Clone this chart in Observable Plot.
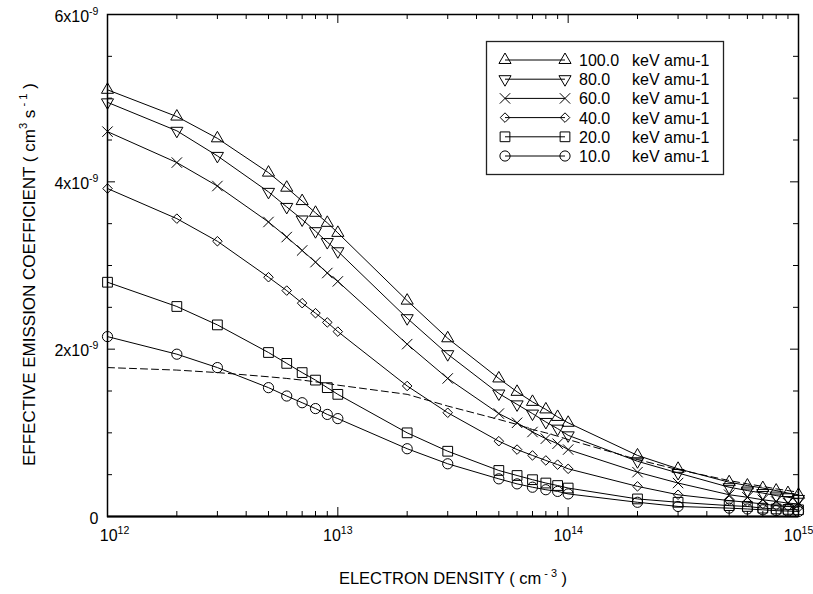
<!DOCTYPE html>
<html><head><meta charset="utf-8">
<script src="https://cdn.jsdelivr.net/npm/d3@7"></script>
<script src="https://cdn.jsdelivr.net/npm/@observablehq/plot@0.6"></script>
<style>
body{margin:0;background:#fff}
#chart{width:813px;height:594px}
</style>
</head><body><div id="chart"></div>
<script>
// Electron density (cm^-3)
const density = [1e12,2e12,3e12,5e12,6e12,7e12,8e12,9e12,1e13,2e13,3e13,5e13,6e13,7e13,8e13,9e13,1e14,2e14,3e14,5e14,6e14,7e14,8e14,9e14,1e15];
// Effective emission coefficient, in units of 1e-9 cm^3 s^-1
const coef100 = [5.10,4.78,4.52,4.11,3.93,3.77,3.63,3.51,3.39,2.58,2.13,1.65,1.49,1.37,1.28,1.19,1.12,0.73,0.57,0.41,0.37,0.34,0.31,0.28,0.26];
const coef80  = [4.95,4.61,4.31,3.88,3.70,3.55,3.41,3.28,3.17,2.37,1.94,1.47,1.34,1.23,1.13,1.05,0.97,0.66,0.52,0.35,0.31,0.28,0.25,0.23,0.21];
const coef60  = [4.60,4.23,3.95,3.52,3.34,3.18,3.04,2.91,2.81,2.06,1.65,1.23,1.12,1.01,0.93,0.87,0.80,0.53,0.40,0.26,0.23,0.20,0.18,0.16,0.15];
const coef40  = [3.92,3.56,3.29,2.86,2.70,2.55,2.43,2.32,2.21,1.56,1.24,0.90,0.80,0.73,0.67,0.62,0.57,0.36,0.26,0.19,0.17,0.15,0.13,0.12,0.11];
const coef20  = [2.80,2.51,2.29,1.96,1.83,1.72,1.63,1.54,1.46,1.00,0.78,0.55,0.49,0.44,0.40,0.37,0.34,0.21,0.17,0.13,0.12,0.10,0.09,0.085,0.08];
const coef10  = [2.15,1.94,1.78,1.54,1.44,1.36,1.29,1.22,1.17,0.81,0.63,0.45,0.39,0.35,0.32,0.30,0.27,0.17,0.12,0.10,0.09,0.08,0.07,0.065,0.06];
const dashedCurve = [1.78,1.75,1.72,1.67,1.65,1.63,1.61,1.59,1.57,1.46,1.32,1.16,1.10,1.04,1.00,0.96,0.92,0.68,0.56,0.43,0.39,0.36,0.33,0.31,0.29];

const energyLabels = ["100.0","80.0","60.0","40.0","20.0","10.0"];
const unitLabel = "keV amu-1";
const xTickValues = [1e12,1e13,1e14,1e15];
const xTickLabels = ["10^{12}","10^{13}","10^{14}","10^{15}"];
const yTickValues = [0,2,4,6];
const yTickLabels = ["0","2x10^{-9}","4x10^{-9}","6x10^{-9}"];
const yMinorValues = [0.5,1,1.5,2.5,3,3.5,4.5,5,5.5];
const xMinorMultipliers = [2,3,4,5,6,7,8,9];
const xTitle = "ELECTRON DENSITY ( cm^{ - 3} )";
const yTitle = "EFFECTIVE EMISSION COEFFICIENT ( cm^{3} s^{ - 1} )";

// inverted triangle symbol
const triangleDown = {
  draw(context, size) {
    const y = -Math.sqrt(size / (Math.sqrt(3) * 3));
    context.moveTo(0, -y * 2);
    context.lineTo(-Math.sqrt(3) * y, y);
    context.lineTo(Math.sqrt(3) * y, y);
    context.closePath();
  }
};

const seriesValues = [coef100, coef80, coef60, coef40, coef20, coef10];
const seriesSymbols = [d3.symbolTriangle, triangleDown, d3.symbolTimes, d3.symbolDiamond2, d3.symbolSquare, d3.symbolCircle];
const seriesR = [4.5, 4.5, 4.8, 4.3, 5.5, 5.1];

const rows = [];
seriesValues.forEach((vals, i) => vals.forEach((v, j) => rows.push({energy: energyLabels[i], density: density[j], value: v})));
const dashedRows = dashedCurve.map((v, j) => ({density: density[j], value: v}));
const xMinor = [1e12,1e13,1e14].flatMap(d => xMinorMultipliers.map(m => d * m));

const W = 813, H = 594, mL = 107, mR = 15, mT = 14, mB = 78;
const pw = W - mL - mR, ph = H - mT - mB;
const font = "'Liberation Sans', Arial, sans-serif";
const xLabel = d => xTickLabels[xTickValues.indexOf(d)];

const svg = Plot.plot({
  width: W, height: H,
  marginLeft: mL, marginRight: mR, marginTop: mT, marginBottom: mB,
  style: {fontFamily: font, fontSize: "16px", color: "#000", background: "#fff", overflow: "visible"},
  x: {type: "log", domain: [1e12, 1e15]},
  y: {domain: [0, 6]},
  marks: [
    Plot.line(dashedRows, {x: "density", y: "value", stroke: "#000", strokeWidth: 1, strokeDasharray: "7,4"}),
    Plot.line(rows, {x: "density", y: "value", z: "energy", stroke: "#000", strokeWidth: 1}),
    ...energyLabels.map((e, i) => Plot.dot(rows.filter(r => r.energy === e), {
      x: "density", y: "value", symbol: seriesSymbols[i], r: seriesR[i],
      stroke: "#000", strokeWidth: 1, fill: "none"
    })),
    Plot.tickX(xTickValues, {insetTop: ph - 9, stroke: "#000"}),
    Plot.tickX(xTickValues, {insetBottom: ph - 9, stroke: "#000"}),
    Plot.tickX(xMinor, {insetTop: ph - 5, stroke: "#000"}),
    Plot.tickX(xMinor, {insetBottom: ph - 5, stroke: "#000"}),
    Plot.tickY(yTickValues, {insetRight: pw - 8, stroke: "#000"}),
    Plot.tickY(yTickValues, {insetLeft: pw - 8, stroke: "#000"}),
    Plot.tickY(yMinorValues, {insetRight: pw - 5, stroke: "#000"}),
    Plot.tickY(yMinorValues, {insetLeft: pw - 5, stroke: "#000"}),
    Plot.frame({stroke: "#000", strokeWidth: 1.5}),
    Plot.ruleY([0], {stroke: "#000", strokeWidth: 2}),
    Plot.axisX(xTickValues.slice(0, 1), {tickSize: 0, tickPadding: 13, dx: 7, label: null, tickFormat: xLabel}),
    Plot.axisX(xTickValues.slice(1), {tickSize: 0, tickPadding: 13, label: null, tickFormat: xLabel}),
    Plot.axisY(yTickValues, {tickSize: 0, tickPadding: 9, dy: 2, label: null,
      tickFormat: d => yTickLabels[yTickValues.indexOf(d)]}),
    Plot.text([xTitle], {frameAnchor: "bottom", dy: 67, fontSize: 16.5, fill: "#000"}),
    Plot.text([yTitle], {frameAnchor: "left", textAnchor: "middle", rotate: -90, dx: -78, dy: 9, fontSize: 17, fill: "#000"})
  ]
});

document.getElementById("chart").appendChild(svg);

// axis tick labels: font size
d3.select(svg).selectAll('g[aria-label$="tick label"]').attr("font-size", "16px");

// superscript markup ^{...} -> tspans (svg is attached, so computed sizes are real)
d3.select(svg).selectAll("text").each(function() {
  const t = this.textContent;
  if (!t.includes("^{")) return;
  const fs = parseFloat(getComputedStyle(this).fontSize) || 16;
  const shift = Math.round(fs * 0.45);
  const parts = t.split(/(\^\{[^}]*\})/).filter(p => p !== "");
  this.textContent = "";
  let raised = false;
  for (const p of parts) {
    const m = p.match(/^\^\{(.*)\}$/);
    const ts = d3.select(this).append("tspan");
    if (m) {
      ts.text(m[1]).style("font-size", (fs * 0.66) + "px").attr("dy", raised ? 0 : -shift);
      raised = true;
    } else {
      ts.text(p).style("font-size", fs + "px");
      if (raised) ts.attr("dy", shift);
      raised = false;
    }
  }
});

// legend
const lg = d3.select(svg).append("g").attr("font-family", font).attr("font-size", 16)
  .attr("fill", "#000").attr("text-anchor", "start");
lg.append("rect").attr("x", 486.5).attr("y", 41.5).attr("width", 237).attr("height", 133)
  .attr("fill", "#fff").attr("stroke", "#222").attr("stroke-width", 1.3);
energyLabels.forEach((e, i) => {
  const y = 60 + i * 19.2;
  const g = lg.append("g");
  g.append("line").attr("x1", 505).attr("x2", 565).attr("y1", y).attr("y2", y).attr("stroke", "#000");
  [505, 565].forEach(x => g.append("path")
    .attr("d", d3.symbol(seriesSymbols[i], seriesR[i] * seriesR[i] * Math.PI)())
    .attr("transform", `translate(${x},${y})`).attr("fill", "none").attr("stroke", "#000"));
  g.append("text").attr("x", 579).attr("y", y + 6).text(e);
  g.append("text").attr("x", 632).attr("y", y + 6).text(unitLabel);
});
</script>
</body></html>
